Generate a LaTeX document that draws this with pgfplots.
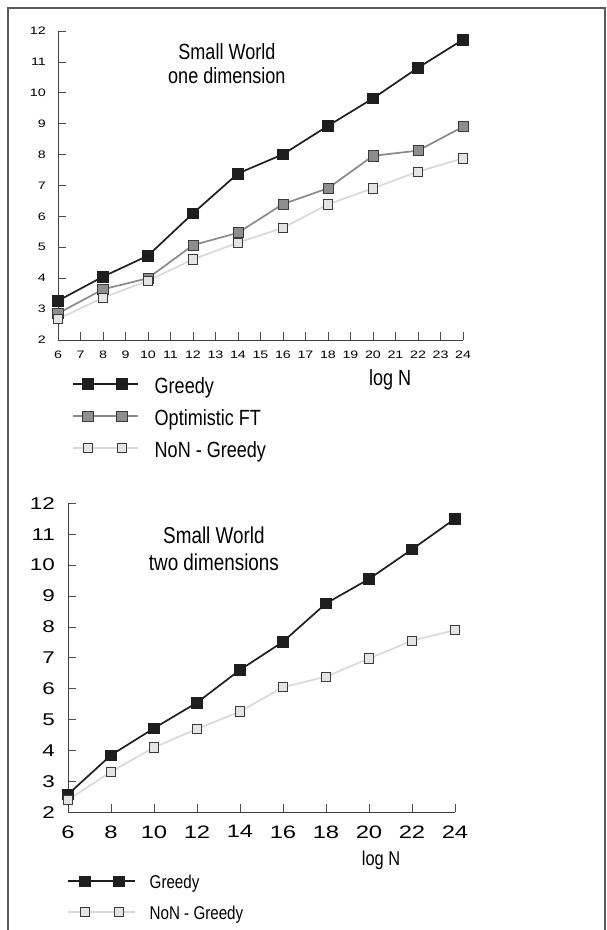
\documentclass[border=0pt]{standalone}
\usepackage{fontspec}
\setmainfont{Liberation Sans}
\newfontfamily\narrowfont[FakeStretch=0.82]{Liberation Sans}
\newfontfamily\widefont[FakeStretch=1.32]{Liberation Sans}
\usepackage{pgfplots}
\usepackage{pgfplotstable}
\pgfplotsset{compat=1.18}

\definecolor{gblack}{HTML}{1E1E1E}
\definecolor{optline}{HTML}{8A8A8A}
\definecolor{optfill}{HTML}{8E8E8E}
\definecolor{nonline}{HTML}{D9D9D9}
\definecolor{nonfill}{HTML}{E4E4E4}
\definecolor{markedge}{HTML}{3A3A3A}
\definecolor{framegray}{HTML}{5A5A5A}

\pgfplotstableread{
x greedy opt non
6  3.27 2.86 2.68
8  4.05 3.64 3.37
10 4.73 4.00 3.92
12 6.10 5.07 4.61
14 7.39 5.47 5.15
16 8.01 6.40 5.63
18 8.93 6.91 6.39
20 9.82 7.96 6.91
22 10.81 8.13 7.45
24 11.72 8.90 7.88
}\tableone

\pgfplotstableread{
x greedy non
6  2.58 2.40
8  3.85 3.31
10 4.72 4.10
12 5.55 4.70
14 6.61 5.26
16 7.52 6.05
18 8.76 6.39
20 9.55 6.98
22 10.51 7.55
24 11.50 7.90
}\tabletwo

\pgfplotsset{
  base/.style={
    scale only axis,
    axis lines=left,
    axis line style={-, black!75, line width=0.9pt},
    xmin=6, xmax=24, ymin=2, ymax=12,
    enlargelimits=false,
    clip=false,
    tick align=inside,
    xtick pos=left, ytick pos=left,
    major tick length=8pt,
    tick style={black!70, line width=0.8pt},
    ytick={2,...,12},
    /pgf/number format/assume math mode=true,
    legend cell align=left,
  },
  greedystyle/.style={color=gblack, line width=1.7pt, mark=square*, mark size=5.3pt,
    mark options={fill=gblack, draw=gblack, line width=0.5pt, solid}},
  optstyle/.style={color=optline, line width=1.7pt, mark=square*, mark size=5.1pt,
    mark options={fill=optfill, draw=markedge, line width=0.8pt, solid}},
  nonstyle/.style={color=nonline, line width=1.7pt, mark=square*, mark size=4.7pt,
    mark options={fill=nonfill, draw=markedge, line width=0.8pt, solid}},
}

\begin{document}
\begin{tikzpicture}[x=1pt,y=1pt]
\useasboundingbox (0pt,0pt) rectangle (607pt,-930pt);
\draw[framegray, line width=1.5pt] (8pt,-930pt) -- (8pt,-8pt) -- (605pt,-8pt) -- (605pt,-930pt);

% ---------- top axis ----------
\begin{axis}[base,
  at={(58pt,-340pt)}, anchor=south west,
  width=405pt, height=309pt,
  xtick={6,...,24},
  xticklabel style={font=\widefont\fontsize{10.8}{12}\selectfont, inner sep=0pt, anchor=north, yshift=-10.5pt},
  yticklabel style={font=\widefont\fontsize{10.8}{12}\selectfont, inner sep=0pt, anchor=east, xshift=-12pt},
  xlabel={log N},
  xlabel style={at={(axis description cs:0.82,-0.128)}, anchor=center, inner sep=0pt,
    font=\narrowfont\fontsize{22}{25}\selectfont},
  legend image code/.code={\draw[mark repeat=2,mark phase=2,#1] plot coordinates {(0pt,4pt) (15pt,4pt) (32pt,4pt) (49pt,4pt) (65pt,4pt)};},
  legend style={at={(axis description cs:0,0)}, anchor=north west, xshift=14pt, yshift=-37.5pt,
    draw=none, fill=none, inner sep=0pt, outer sep=0pt, row sep=11pt, column sep=16pt,
    nodes={inner sep=0pt, text height=16pt, text depth=5pt},
    font=\narrowfont\fontsize{22}{25}\selectfont},
]
\addplot[greedystyle] table[x=x, y=greedy] {\tableone};
\addlegendentry{Greedy}
\addplot[optstyle] table[x=x, y=opt] {\tableone};
\addlegendentry{Optimistic FT}
\addplot[nonstyle] table[x=x, y=non] {\tableone};
\addlegendentry{NoN - Greedy}
\node[font=\narrowfont\fontsize{22}{24.5}\selectfont, align=center, inner sep=0pt]
  at (rel axis cs:0.417,0.895) {Small World\\one dimension};
\end{axis}

% ---------- bottom axis ----------
\begin{axis}[base,
  at={(68pt,-812.3pt)}, anchor=south west,
  width=387pt, height=309pt,
  xtick={6,8,...,24},
  xticklabel style={font=\widefont\fontsize{18}{20}\selectfont, inner sep=0pt, anchor=north, yshift=-13pt},
  yticklabel style={font=\widefont\fontsize{17}{20}\selectfont, inner sep=0pt, anchor=east, xshift=-13pt},
  xlabel={log N},
  xlabel style={at={(axis description cs:0.809,-0.154)}, anchor=center, inner sep=0pt,
    font=\narrowfont\fontsize{20}{24}\selectfont},
  legend image code/.code={\draw[mark repeat=2,mark phase=2,#1] plot coordinates {(0pt,2.5pt) (17pt,2.5pt) (34pt,2.5pt) (51pt,2.5pt) (67pt,2.5pt)};},
  legend style={at={(axis description cs:0,0)}, anchor=north west, xshift=-1pt, yshift=-62.5pt,
    draw=none, fill=none, inner sep=0pt, outer sep=0pt, row sep=13.5pt, column sep=14pt,
    nodes={inner sep=0pt, text height=13.5pt, text depth=4pt},
    font=\narrowfont\fontsize{18.5}{22}\selectfont},
]
\addplot[greedystyle] table[x=x, y=greedy] {\tabletwo};
\addlegendentry{Greedy}
\addplot[nonstyle] table[x=x, y=non] {\tabletwo};
\addlegendentry{NoN - Greedy}
\node[font=\narrowfont\fontsize{23}{27.4}\selectfont, align=center, inner sep=0pt]
  at (rel axis cs:0.377,0.853) {Small World\\two dimensions};
\end{axis}
\end{tikzpicture}
\end{document}
